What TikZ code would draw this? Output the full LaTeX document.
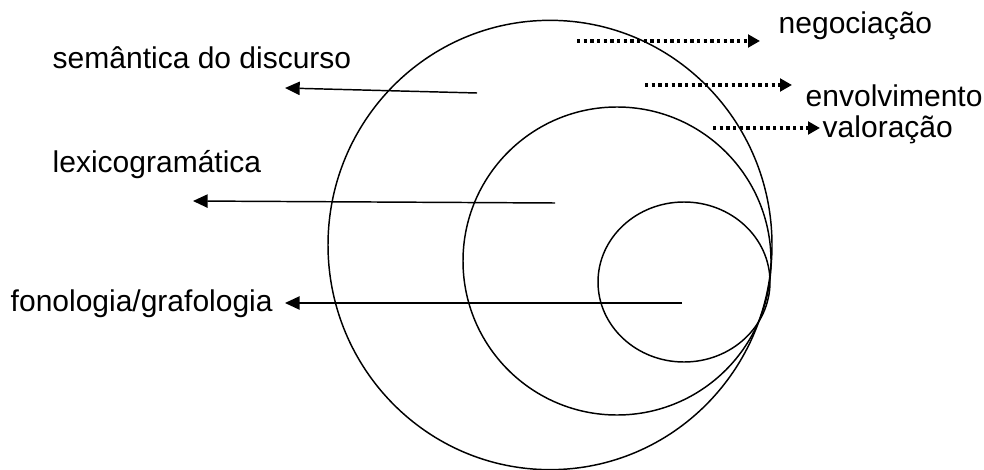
\documentclass[tikz,border=0pt]{standalone}
\usepackage{fontspec}
\setmainfont{Liberation Sans}
\usetikzlibrary{arrows.meta}
\begin{document}
\begin{tikzpicture}[x=0.75pt, y=-0.75pt, line width=1.1pt,
  lbl/.style={font=\fontsize{22.5}{27}\selectfont, inner sep=0pt, anchor=base west},
  ptr/.style={-{Triangle[length=11pt,width=10pt]}},
  dotptr/.style={line width=2.8pt, dash pattern=on 2.6pt off 2.4pt, -{Triangle[length=9pt,width=9.5pt]}}]
\useasboundingbox (0,0) rectangle (984,470);

% strata
\draw (550,245) ellipse [x radius=166.5pt, y radius=168.5pt];
\draw (617,261) circle [radius=115.5pt];
\draw (684,282) ellipse [x radius=64.5pt, y radius=60pt];

% labels
\node[lbl] (sem) at (52,69) {semântica do discurso};
\node[lbl] (lex) at (52,173) {lexicogramática};
\node[lbl] (fon) at (10,311) {fonologia/grafologia};
\node[lbl] (neg) at (778,34) {negociação};
\node[lbl] (env) at (805,107) {envolvimento};
\node[lbl] (val) at (822,138) {valoração};

% arrows
\coordinate (semA) at (477,93);  \coordinate (semB) at (285,88);
\coordinate (lexA) at (555,203); \coordinate (lexB) at (193,201);
\coordinate (fonA) at (682,303); \coordinate (fonB) at (285,303);
\draw[ptr] (semA) -- (semB);
\draw[ptr] (lexA) -- (lexB);
\draw[ptr] (fonA) -- (fonB);

\coordinate (negA) at (577,41);  \coordinate (negB) at (760,41);
\coordinate (envA) at (645,85);  \coordinate (envB) at (792,85);
\coordinate (valA) at (713,128); \coordinate (valB) at (820,128);
\draw[dotptr] (negA) -- (negB);
\draw[dotptr] (envA) -- (envB);
\draw[dotptr] (valA) -- (valB);

\end{tikzpicture}
\end{document}
